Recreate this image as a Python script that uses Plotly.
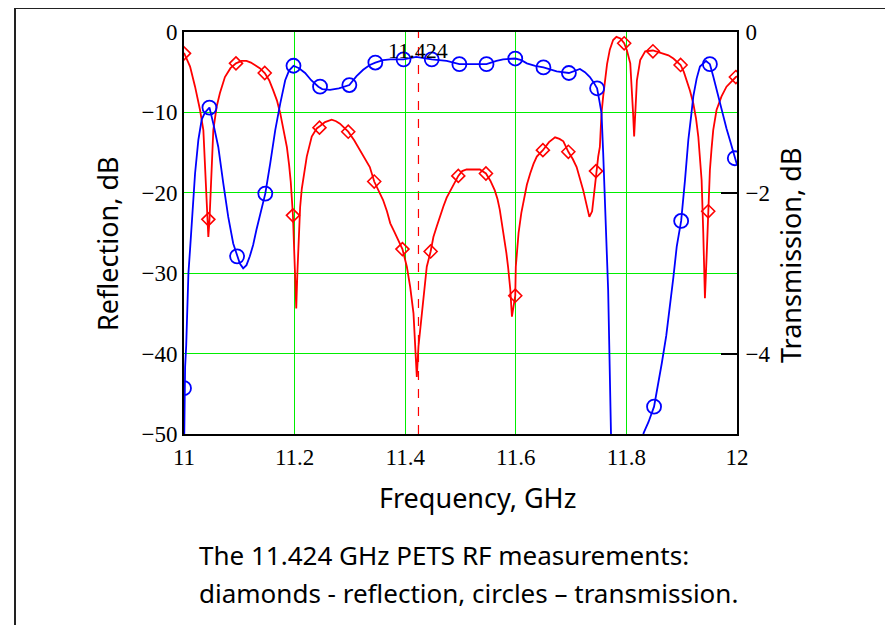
import plotly.graph_objects as go

# ---------------- data ----------------
refl_freq = [11.000, 11.011, 11.020, 11.029, 11.035, 11.038, 11.042, 11.044, 11.046, 11.050,
             11.053, 11.059, 11.065, 11.074, 11.084, 11.094, 11.104, 11.113, 11.121, 11.128,
             11.137, 11.146, 11.154, 11.161, 11.168, 11.174, 11.180, 11.186, 11.190, 11.193,
             11.197, 11.200, 11.203, 11.205, 11.207, 11.210, 11.213, 11.216, 11.222, 11.231,
             11.240, 11.246, 11.255, 11.267, 11.275, 11.282, 11.290, 11.297, 11.308, 11.318,
             11.327, 11.336, 11.344, 11.352, 11.360, 11.367, 11.373, 11.380, 11.385, 11.395,
             11.403, 11.409, 11.415, 11.419, 11.421, 11.424, 11.430, 11.436, 11.439, 11.446,
             11.451, 11.457, 11.463, 11.469, 11.475, 11.481, 11.488, 11.496, 11.503, 11.511,
             11.523, 11.535, 11.546, 11.554, 11.562, 11.567, 11.571, 11.575, 11.579, 11.583,
             11.586, 11.590, 11.593, 11.596, 11.599, 11.600, 11.603, 11.605, 11.610, 11.614,
             11.620, 11.626, 11.632, 11.638, 11.649, 11.660, 11.671, 11.679, 11.686, 11.695,
             11.703, 11.710, 11.716, 11.722, 11.728, 11.733, 11.738, 11.741, 11.745, 11.749,
             11.752, 11.755, 11.758, 11.761, 11.765, 11.770, 11.776, 11.782, 11.789, 11.796,
             11.801, 11.807, 11.810, 11.812, 11.814, 11.816, 11.819, 11.825, 11.834, 11.848,
             11.858, 11.867, 11.876, 11.885, 11.898, 11.904, 11.909, 11.915, 11.921, 11.926,
             11.930, 11.933, 11.936, 11.939, 11.942, 11.945, 11.948, 11.951, 11.954, 11.957,
             11.963, 11.972, 11.981, 11.990, 11.998, 12.000]
refl_db = [-2.6, -4.3, -6.8, -9.7, -12.2, -17.2, -23.0, -25.5, -23.5, -16.3,
           -12.2, -9.3, -7.6, -5.6, -4.5, -3.9, -3.6, -3.6, -3.8, -4.1,
           -4.5, -5.1, -6.0, -7.2, -8.5, -10.1, -12.0, -14.3, -16.5, -18.6,
           -22.8, -28.0, -34.4, -30.0, -25.5, -21.8, -19.5, -18.0, -15.5, -13.0,
           -12.0, -11.7, -11.2, -10.9, -11.1, -11.4, -11.9, -12.4, -13.5, -14.7,
           -15.8, -16.8, -18.6, -19.8, -20.9, -22.3, -23.8, -24.8, -25.5, -27.0,
           -29.2, -31.7, -35.0, -40.0, -42.9, -39.1, -35.0, -31.7, -29.2, -27.3,
           -25.5, -24.2, -22.8, -21.7, -20.6, -19.8, -18.8, -17.9, -17.3, -17.1,
           -17.1, -17.1, -17.6, -18.5, -19.7, -20.8, -22.1, -23.8, -25.9, -27.5,
           -29.2, -32.0, -35.4, -34.0, -32.8, -29.2, -26.5, -25.0, -22.5, -20.9,
           -19.0, -17.6, -16.4, -15.5, -14.7, -13.7, -13.1, -13.3, -13.6, -14.9,
           -15.8, -16.8, -18.2, -19.7, -21.5, -23.0, -22.3, -20.5, -17.3, -15.5,
           -14.3, -10.1, -8.0, -6.0, -4.0, -2.2, -1.0, -0.6, -0.8, -1.4,
           -2.3, -3.9, -6.8, -10.0, -13.0, -10.0, -6.0, -3.5, -2.4, -2.3,
           -2.5, -2.65, -2.9, -3.3, -4.1, -5.0, -6.0, -7.3, -8.9, -10.8,
           -13.0, -15.5, -18.4, -25.0, -33.1, -28.0, -22.3, -17.2, -14.5, -12.2,
           -9.7, -8.0, -6.8, -6.1, -5.6, -5.5]

refl_mark_freq = [11.000, 11.044, 11.094, 11.146, 11.197, 11.245, 11.297, 11.344, 11.395, 11.446,
                  11.496, 11.546, 11.599, 11.649, 11.695, 11.745, 11.796, 11.848, 11.898, 11.948,
                  11.998]
refl_mark_db = [-2.65, -23.3, -3.9, -5.1, -22.8, -11.9, -12.4, -18.6, -27.0, -27.3,
                -17.9, -17.6, -32.8, -14.7, -14.9, -17.3, -1.4, -2.4, -4.1, -22.3,
                -5.6]

trans_freq = [11.000, 11.001, 11.002, 11.004, 11.006, 11.008, 11.011, 11.014, 11.017, 11.020,
              11.026, 11.032, 11.038, 11.044, 11.046, 11.053, 11.062, 11.071, 11.080, 11.089,
              11.096, 11.101, 11.107, 11.113, 11.119, 11.125, 11.131, 11.139, 11.147, 11.156,
              11.165, 11.174, 11.183, 11.190, 11.198, 11.208, 11.219, 11.230, 11.243, 11.250,
              11.264, 11.280, 11.299, 11.312, 11.324, 11.336, 11.346, 11.360, 11.373, 11.397,
              11.420, 11.448, 11.475, 11.498, 11.520, 11.547, 11.565, 11.577, 11.599, 11.610,
              11.620, 11.635, 11.650, 11.662, 11.674, 11.696, 11.716, 11.725, 11.734, 11.741,
              11.747, 11.751, 11.755, 11.758, 11.761, 11.764, 11.767, 11.769, 11.770, 11.771,
              11.775, 11.800, 11.826, 11.831, 11.840, 11.850, 11.857, 11.864, 11.872, 11.879,
              11.885, 11.891, 11.899, 11.906, 11.912, 11.917, 11.921, 11.927, 11.933, 11.944,
              11.951, 11.957, 11.963, 11.969, 11.975, 11.981, 11.987, 11.996, 12.000]
trans_db = [-5.3, -4.43, -4.17, -3.9, -3.5, -3.0, -2.7, -2.38, -2.05, -1.76,
            -1.34, -1.09, -1.0, -0.95, -0.94, -1.14, -1.43, -1.88, -2.30, -2.63,
            -2.79, -2.88, -2.94, -2.90, -2.79, -2.65, -2.46, -2.25, -2.01, -1.63,
            -1.22, -0.89, -0.60, -0.48, -0.42, -0.45, -0.51, -0.60, -0.68, -0.71,
            -0.72, -0.70, -0.66, -0.55, -0.47, -0.41, -0.38, -0.35, -0.34, -0.34,
            -0.31, -0.34, -0.36, -0.40, -0.40, -0.40, -0.36, -0.34, -0.33, -0.35,
            -0.39, -0.42, -0.44, -0.47, -0.49, -0.51, -0.46, -0.50, -0.56, -0.63,
            -0.70, -0.85, -1.01, -1.5, -2.05, -2.6, -3.21, -3.9, -4.54, -5.0,
            -6.0, -8.0, -6.0, -4.99, -4.85, -4.66, -4.40, -4.12, -3.78, -3.42,
            -3.05, -2.67, -2.35, -1.84, -1.34, -1.05, -0.80, -0.58, -0.43, -0.36,
            -0.40, -0.55, -0.72, -0.88, -1.05, -1.20, -1.34, -1.57, -1.65]

trans_mark_freq = [11.000, 11.046, 11.096, 11.147, 11.198, 11.246, 11.299, 11.346, 11.397, 11.448,
                   11.498, 11.547, 11.599, 11.650, 11.696, 11.747, 11.850, 11.899, 11.951, 11.996]
trans_mark_db = [-4.43, -0.94, -2.79, -2.01, -0.42, -0.68, -0.66, -0.38, -0.34, -0.34,
                 -0.40, -0.40, -0.33, -0.44, -0.51, -0.70, -4.66, -2.35, -0.40, -1.57]

design_freq = 11.424
design_label = "11.424"

x_ticks = [11, 11.2, 11.4, 11.6, 11.8, 12]
x_tick_text = ["11", "11.2", "11.4", "11.6", "11.8", "12"]
y_ticks = [0, -10, -20, -30, -40, -50]
y_tick_text = ["0", "\u221210", "\u221220", "\u221230", "\u221240", "\u221250"]
y2_ticks = [0, -2, -4]
y2_tick_text = ["0", "\u22122", "\u22124"]

x_title = "Frequency, GHz"
y_title = "Reflection, dB"
y2_title = "Transmission, dB"
caption_1 = "The 11.424 GHz PETS RF measurements:"
caption_2 = "diamonds - reflection, circles \u2013 transmission."

# ---------------- figure ----------------
RED = "#ff0000"
BLUE = "#0000ff"
GREEN = "#00ee00"
SERIF = "Liberation Serif, Times New Roman, serif"
SANS = "Comic Sans MS, Noto Sans, sans-serif"

fig = go.Figure()

fig.add_trace(go.Scatter(x=refl_freq, y=refl_db, mode="lines",
                         line=dict(color=RED, width=1.8), showlegend=False,
                         hoverinfo="skip"))
fig.add_trace(go.Scatter(x=refl_mark_freq, y=refl_mark_db, mode="markers",
                         marker=dict(symbol="diamond-open", size=10,
                                     color=RED, line=dict(color=RED, width=1.6)),
                         showlegend=False))
fig.add_trace(go.Scatter(x=trans_freq, y=trans_db, mode="lines", yaxis="y2",
                         line=dict(color=BLUE, width=1.8), showlegend=False,
                         hoverinfo="skip"))
fig.add_trace(go.Scatter(x=trans_mark_freq, y=trans_mark_db, mode="markers", yaxis="y2",
                         marker=dict(symbol="circle-open", size=14,
                                     color=BLUE, line=dict(color=BLUE, width=1.8)),
                         showlegend=False))

# the page body adds an 8px offset, so the figure is laid out 8px smaller
fig.update_layout(
    width=885, height=617,
    margin=dict(l=176, r=156, t=24, b=191, pad=0),
    paper_bgcolor="white", plot_bgcolor="white",
    xaxis=dict(range=[11, 12], tickvals=x_ticks, ticktext=x_tick_text,
               showgrid=True, gridcolor=GREEN, gridwidth=1, zeroline=False,
               showline=True, linecolor="black", linewidth=2, mirror=True,
               ticks="", ticklabelstandoff=1,
               tickfont=dict(family=SERIF, size=23, color="black")),
    yaxis=dict(range=[-50, 0], tickvals=y_ticks, ticktext=y_tick_text,
               showgrid=True, gridcolor=GREEN, gridwidth=1, zeroline=False,
               showline=True, linecolor="black", linewidth=2, mirror=True,
               ticks="", ticklabelstandoff=0,
               tickfont=dict(family=SERIF, size=23, color="black")),
    yaxis2=dict(range=[-5, 0], tickvals=y2_ticks, ticktext=y2_tick_text,
                overlaying="y", side="right", showgrid=False, zeroline=False,
                showline=True, linecolor="black", linewidth=2,
                ticks="inside", ticklen=16, tickwidth=2, tickcolor="black",
                ticklabelstandoff=2,
                tickfont=dict(family=SERIF, size=23, color="black")),
)

# dashed marker line at the design frequency
fig.add_shape(type="line", xref="x", yref="paper", x0=design_freq, x1=design_freq,
              y0=0, y1=1, line=dict(color=RED, width=1.2, dash="dash"), layer="below")

# outer frame
fig.add_shape(type="rect", xref="paper", yref="paper",
              x0=-0.3056, x1=1.5, y0=-0.7, y1=1.0597,
              line=dict(color="#222222", width=2), fillcolor="rgba(0,0,0,0)")

ann = [
    dict(text=design_label, x=design_freq, xref="x", y=0.955, yref="paper",
         showarrow=False, font=dict(family=SERIF, size=22, color="black"),
         xanchor="center", yanchor="middle"),
    dict(text=x_title, x=0.5316, y=-0.159, xref="paper", yref="paper",
         showarrow=False, font=dict(family=SANS, size=27, color="black"),
         xanchor="center", yanchor="middle"),
    dict(text=y_title, x=-0.1392, y=0.4726, xref="paper", yref="paper", textangle=-90,
         showarrow=False, font=dict(family=SANS, size=27, color="black"),
         xanchor="center", yanchor="middle"),
    dict(text=y2_title, x=1.0958, y=0.445, xref="paper", yref="paper", textangle=-90,
         showarrow=False, font=dict(family=SANS, size=27, color="black"),
         xanchor="center", yanchor="middle"),
    dict(text=caption_1, x=0.0235, y=-0.301, xref="paper", yref="paper",
         showarrow=False, font=dict(family=SANS, size=26, color="black"),
         xanchor="left", yanchor="middle"),
    dict(text=caption_2, x=0.0235, y=-0.3955, xref="paper", yref="paper",
         showarrow=False, font=dict(family=SANS, size=26, color="black"),
         xanchor="left", yanchor="middle"),
]
fig.update_layout(annotations=ann)

fig.write_html("out.html")
